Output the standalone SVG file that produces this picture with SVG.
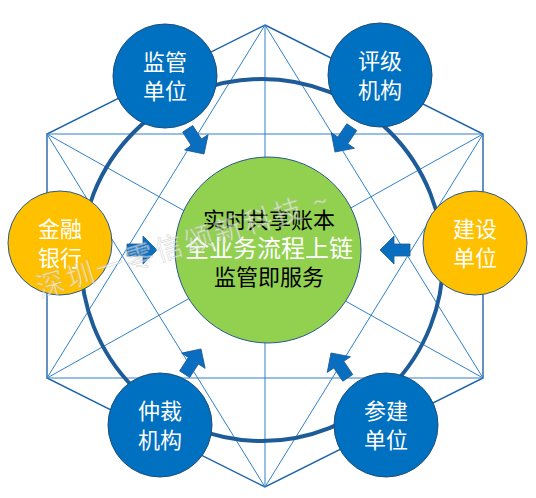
<svg xmlns="http://www.w3.org/2000/svg" width="536" height="498" viewBox="0 0 536 498">
<defs>
<style>
.edge{stroke:#2265a8;stroke-width:1.4;fill:none}
.diag{stroke:#2f80c8;stroke-width:1;fill:none}
.blue{fill:#0070c0;stroke:#1f4e79;stroke-width:1}
.yellow{fill:#ffc000;stroke:#2a5a8a;stroke-width:1}
.nt{font-family:"Noto Sans CJK SC","Noto Sans",sans-serif;font-size:22px;fill:#ffffff;text-anchor:middle}
.ct{font-family:"Noto Sans CJK SC","Noto Sans",sans-serif;text-anchor:middle}
.arrow{fill:#0a6ec0;stroke:#1f5a94;stroke-width:0.8}
</style>
<path id="arr" d="M-30,-6 L-14,-6 L-14,-14 L0,0 L-14,14 L-14,6 L-30,6 Z"/>
</defs>
<rect width="536" height="498" fill="#ffffff"/>
<g id="connectors">
<polygon class="edge" points="265,25 483,134 483,378 265,487 47,378 47,134"/>
<line class="diag" x1="47" y1="134" x2="483" y2="134"/>
<line class="diag" x1="47" y1="378" x2="483" y2="378"/>
<line class="diag" x1="265" y1="25" x2="265" y2="487"/>
<line class="diag" x1="265" y1="25" x2="47" y2="378"/>
<line class="diag" x1="265" y1="25" x2="483" y2="378"/>
<line class="diag" x1="265" y1="487" x2="47" y2="134"/>
<line class="diag" x1="265" y1="487" x2="483" y2="134"/>
<line class="diag" x1="47" y1="134" x2="483" y2="378"/>
<line class="diag" x1="483" y1="134" x2="47" y2="378"/>
<circle cx="262" cy="260" r="181" fill="none" stroke="#1d5c98" stroke-width="4"/>
<use href="#arr" class="arrow" transform="translate(204,154) rotate(57)"/>
<use href="#arr" class="arrow" transform="translate(335,152) rotate(124)"/>
<use href="#arr" class="arrow" transform="translate(157,250)"/>
<use href="#arr" class="arrow" transform="translate(380,250) rotate(180)"/>
<use href="#arr" class="arrow" transform="translate(201,349) rotate(-57)"/>
<use href="#arr" class="arrow" transform="translate(331,353) rotate(-124)"/>
</g>
<g id="center">
<circle cx="268" cy="250" r="93" fill="#92d050" stroke="#2a5a8a" stroke-width="1"/>
<text class="ct" x="269" y="228" font-size="22" fill="#000000">实时共享账本</text>
<text class="ct" x="269" y="257" font-size="24" fill="#ffffff">全业务流程上链</text>
<text class="ct" x="269" y="285" font-size="22" fill="#000000">监管即服务</text>
</g>
<g id="n-jianguan">
<circle class="blue" cx="165" cy="76" r="52"/>
<text class="nt" x="165" y="70">监管</text>
<text class="nt" x="165" y="99">单位</text>
</g>
<g id="n-pingji">
<circle class="blue" cx="380" cy="75" r="52"/>
<text class="nt" x="380" y="69">评级</text>
<text class="nt" x="380" y="98">机构</text>
</g>
<g id="n-jinrong">
<circle class="yellow" cx="60" cy="243" r="52"/>
<text class="nt" x="60" y="237">金融</text>
<text class="nt" x="60" y="266">银行</text>
</g>
<g id="n-jianshe">
<circle class="yellow" cx="475" cy="243" r="52"/>
<text class="nt" x="475" y="237">建设</text>
<text class="nt" x="475" y="266">单位</text>
</g>
<g id="n-zhongcai">
<circle class="blue" cx="160" cy="425" r="52"/>
<text class="nt" x="160" y="419">仲裁</text>
<text class="nt" x="160" y="448">机构</text>
</g>
<g id="n-canjian">
<circle class="blue" cx="386" cy="425" r="52"/>
<text class="nt" x="386" y="419">参建</text>
<text class="nt" x="386" y="448">单位</text>
</g>
<g id="watermark" opacity="0.55">
<text x="40" y="298" transform="rotate(-17 40 298)" font-family="Noto Sans CJK SC, sans-serif" font-size="28" letter-spacing="3" fill="#ffffff" stroke="#b8b8b8" stroke-width="0.6">深圳一零信颂新科技 ~</text>
</g>
</svg>
